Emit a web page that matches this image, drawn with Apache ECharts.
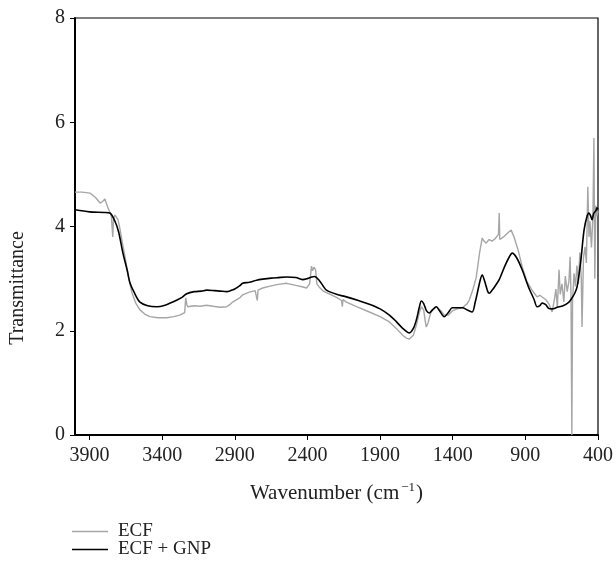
<!DOCTYPE html>
<html>
<head>
<meta charset="utf-8">
<script src="https://cdn.jsdelivr.net/npm/echarts@6/dist/echarts.min.js"></script>
<style>
html,body{margin:0;padding:0;background:#fff;}
#chart{width:616px;height:566px;}
</style>
</head>
<body>
<div id="chart"></div>
<script>
const seriesNames = ['ECF', 'ECF + GNP'];
const xTickValues = [400, 900, 1400, 1900, 2400, 2900, 3400, 3900];
const yTickValues = [0, 2, 4, 6, 8];

const ecfWave = [4000,3950,3897,3860,3828,3810,3794,3785,3773,3750,3740,3735,3725,3704,3690,3675,3656,3630,3608,3580,3553,3520,3485,3430,3368,3320,3279,3245,3238,3230,3224,3180,3140,3094,3050,3000,2956,2935,2915,2867,2846,2800,2760,2745,2740,2708,2650,2600,2544,2480,2430,2406,2385,2372,2365,2355,2344,2335,2320,2290,2269,2200,2165,2160,2155,2132,2050,1974,1900,1836,1790,1746,1720,1698,1670,1650,1630,1616,1600,1590,1582,1570,1550,1513,1480,1458,1430,1403,1370,1334,1300,1286,1260,1238,1215,1197,1185,1170,1150,1130,1110,1101,1085,1080,1076,1050,1020,998,978,950,922,890,854,838,820,800,757,735,716,700,690,680,668,660,648,635,625,612,600,592,586,580,575,565,555,545,535,525,515,510,500,489,480,470,462,455,445,435,428,422,415,408,400];
const ecfT = [4.66,4.66,4.64,4.56,4.45,4.48,4.53,4.45,4.36,4.20,3.80,4.15,4.22,4.13,3.95,3.70,3.42,3.00,2.73,2.52,2.40,2.32,2.27,2.25,2.25,2.27,2.30,2.35,2.63,2.50,2.46,2.48,2.47,2.49,2.47,2.45,2.46,2.50,2.55,2.63,2.69,2.74,2.77,2.58,2.78,2.82,2.86,2.89,2.91,2.87,2.84,2.82,2.90,3.24,3.15,3.22,3.17,2.90,2.84,2.76,2.73,2.64,2.58,2.46,2.60,2.55,2.45,2.36,2.27,2.17,2.05,1.92,1.86,1.84,1.92,2.11,2.35,2.46,2.40,2.20,2.07,2.15,2.36,2.46,2.38,2.30,2.30,2.38,2.42,2.44,2.52,2.59,2.80,3.03,3.50,3.78,3.72,3.68,3.75,3.72,3.76,3.74,3.85,4.26,3.75,3.80,3.88,3.93,3.80,3.55,3.23,2.95,2.78,2.72,2.65,2.68,2.59,2.50,2.36,2.60,2.80,2.45,3.17,2.70,2.90,2.55,3.05,2.75,2.95,3.42,2.70,0.00,2.60,3.10,2.85,3.25,2.90,3.50,3.00,2.07,3.40,3.61,3.30,4.76,3.80,4.10,3.60,4.20,5.70,3.00,4.40,4.20,4.30];

const gnpWave = [4000,3900,3800,3760,3725,3700,3670,3640,3622,3590,3553,3500,3437,3380,3327,3270,3231,3180,3130,3094,3040,3000,2956,2920,2900,2867,2846,2800,2750,2708,2650,2600,2544,2480,2433,2400,2370,2351,2320,2290,2269,2200,2132,2050,1974,1900,1836,1790,1746,1710,1698,1670,1650,1630,1616,1600,1580,1561,1540,1513,1490,1458,1430,1403,1370,1334,1300,1266,1245,1231,1210,1197,1180,1160,1149,1128,1110,1080,1040,1010,991,960,922,880,840,819,800,785,760,740,716,680,640,600,579,560,544,520,496,475,462,450,441,430,415,407,400];
const gnpT = [4.32,4.28,4.27,4.26,4.10,3.90,3.49,3.15,2.92,2.72,2.55,2.48,2.46,2.49,2.55,2.63,2.71,2.75,2.76,2.78,2.77,2.76,2.75,2.78,2.80,2.86,2.91,2.93,2.97,2.99,3.01,3.02,3.03,3.02,2.98,3.00,3.03,3.04,2.97,2.85,2.78,2.70,2.65,2.58,2.51,2.42,2.30,2.18,2.05,1.97,1.96,2.05,2.21,2.45,2.57,2.52,2.38,2.34,2.40,2.46,2.38,2.27,2.35,2.44,2.44,2.44,2.40,2.36,2.55,2.72,2.98,3.07,2.95,2.76,2.72,2.78,2.85,2.98,3.25,3.42,3.49,3.40,3.17,2.85,2.60,2.46,2.48,2.53,2.50,2.43,2.42,2.45,2.48,2.55,2.63,2.72,2.84,3.30,3.93,4.20,4.26,4.20,4.13,4.25,4.30,4.36,4.33];

const FONT = '"Liberation Serif", "DejaVu Serif", serif';
const pairs = (w, t) => w.map((v, i) => [v, t[i]]);

const legendCommon = {
  orient: 'horizontal', left: 67,
  icon: 'rect', itemWidth: 36, itemHeight: 1.6, itemGap: 0,
  textStyle: {fontFamily: FONT, fontSize: 19, color: '#222', padding: [0, 0, 0, 5]}
};

const chart = echarts.init(document.getElementById('chart'), null, {renderer: 'canvas'});
chart.setOption({
  animation: false,
  backgroundColor: '#ffffff',
  grid: {left: 75, right: 17, top: 18, bottom: 131, show: true, borderColor: '#000', borderWidth: 1.2},
  legend: [
    Object.assign({}, legendCommon, {top: 517, data: [seriesNames[0]]}),
    Object.assign({}, legendCommon, {top: 535, data: [seriesNames[1]]})
  ],
  graphic: [{
    type: 'text', x: 18, y: 288, rotation: Math.PI / 2,
    style: {text: 'Transmittance', fontFamily: FONT, fontSize: 20, fill: '#222', align: 'center', verticalAlign: 'middle'}
  }],
  xAxis: {
    type: 'value', inverse: true, min: 400, max: 4000, interval: 500,
    name: '{a|Wavenumber (cm}{s|−1}{a|)}', nameLocation: 'middle', nameGap: 46,
    nameTextStyle: {rich: {a: {fontFamily: FONT, fontSize: 21, color: '#222'}, s: {fontFamily: FONT, fontSize: 13, color: '#222', padding: [0, 1, 11, 2]}}},
    axisLine: {show: true, onZero: false, lineStyle: {color: '#000', width: 2}},
    axisTick: {show: true, inside: false, length: 5, customValues: xTickValues, lineStyle: {color: '#000', width: 1}},
    axisLabel: {show: true, fontFamily: FONT, fontSize: 20, color: '#222', margin: 11,
      customValues: xTickValues, formatter: v => String(v)},
    splitLine: {show: false}
  },
  yAxis: {
    type: 'value', min: 0, max: 8, interval: 2,
    axisLine: {show: true, lineStyle: {color: '#000', width: 2}},
    axisTick: {show: true, inside: false, length: 5, customValues: yTickValues, lineStyle: {color: '#000', width: 1}},
    axisLabel: {fontFamily: FONT, fontSize: 20, color: '#222', margin: 10, customValues: yTickValues, formatter: v => String(v)},
    splitLine: {show: false}
  },
  series: [
    {name: seriesNames[0], type: 'line', data: pairs(ecfWave, ecfT), symbol: 'none', smooth: false,
      lineStyle: {color: '#a6a6a6', width: 1.4}, itemStyle: {color: '#a6a6a6'}, z: 2},
    {name: seriesNames[1], type: 'line', data: pairs(gnpWave, gnpT), symbol: 'none', smooth: 0.3,
      lineStyle: {color: '#000', width: 1.6}, itemStyle: {color: '#000'}, z: 3}
  ]
});
</script>
</body>
</html>
